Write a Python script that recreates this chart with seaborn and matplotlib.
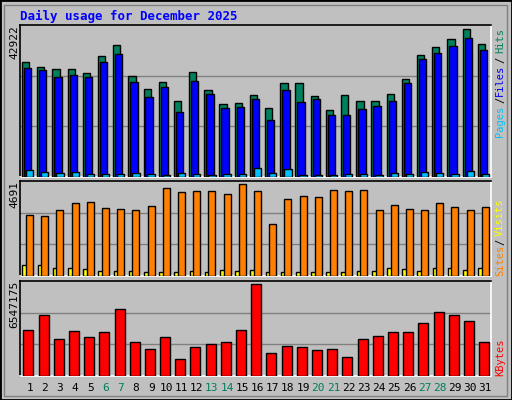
import numpy as np
import matplotlib
matplotlib.use("Agg")
import matplotlib.pyplot as plt
from matplotlib.patches import Rectangle
import seaborn as sns

sns.set_theme(style="white")
plt.rcParams['font.family'] = ['DejaVu Sans Mono', 'DejaVu Sans']

days = list(range(1, 32))
day_labels = [str(d) for d in days]
weekend_days = [6, 7, 13, 14, 20, 21, 27, 28]
hits = [32355, 30940, 30374, 30374, 29242, 34053, 37166, 28393, 24714, 26695, 21601, 29525, 24431, 20753, 21036,
        23017, 19621, 26412, 26412, 22734, 19055, 23017, 21601, 21601, 23300, 27544, 34336, 36600, 38864, 41694, 37449]
files = [30657, 30091, 28110, 28676, 28110, 32355, 34619, 26695, 22450, 25280, 18489, 26978, 23300, 19621, 19904,
         21885, 16225, 24431, 21319, 21885, 17640, 17640, 19338, 20187, 21601, 26412, 33204, 34902, 36883, 39147, 35751]
pages = [2075, 1509, 1226, 1509, 943, 943, 943, 1226, 943, 660, 1226, 943, 660, 943, 943,
         2641, 1226, 2358, 660, 660, 660, 943, 943, 660, 1226, 943, 1509, 1226, 943, 1792, 943]
visits = [3001, 2952, 3247, 3592, 3641, 3346, 3296, 3247, 3444, 4330, 4133, 4182, 4182, 4034, 4526,
          4182, 2558, 3788, 3936, 3887, 4231, 4182, 4231, 3247, 3493, 3296, 3247, 3592, 3395, 3247, 3395]
sites = [541, 541, 394, 394, 344, 246, 246, 246, 197, 197, 197, 246, 197, 295, 246,
         295, 197, 197, 197, 197, 197, 197, 246, 246, 394, 344, 246, 394, 394, 295, 394]
kbytes = [3204, 4173, 2582, 3135, 2720, 3066, 4588, 2374, 1890, 2720, 1199, 2029, 2236, 2374, 3204,
          6317, 1614, 2098, 2029, 1821, 1890, 1337, 2582, 2789, 3066, 3066, 3619, 4380, 4173, 3758, 2374]
max_hits_label = 42922
max_visits_label = 4691
max_kb_label = 6547175

BG = "#C0C0C0"
fig = plt.figure(figsize=(5.12, 4.0), dpi=100, facecolor=BG)
W, H = 512, 400
fig.patches.append(Rectangle((0, 0), 1, 1, transform=fig.transFigure, fill=False,
                             edgecolor="black", linewidth=2, zorder=10))
fig.patches.append(Rectangle((4/W, 4/H), 1-9/W, 1-9/H, transform=fig.transFigure, fill=False,
                             edgecolor="#808080", linewidth=1, zorder=10))

def mkax(top, bottom):
    ax = fig.add_axes([20/W, (H-bottom)/H, 471/W, (bottom-top)/H])
    ax.set_facecolor(BG)
    for s in ["top", "left"]:
        ax.spines[s].set_color("black")
    for s in ["bottom", "right"]:
        ax.spines[s].set_color("white")
    for sp in ax.spines.values():
        sp.set_linewidth(1.2)
    return ax

x = np.array(days, dtype=float)

def bars(ax, xs, vals, w, color):
    sns.barplot(x=xs, y=vals, native_scale=True, width=w, color=color, edgecolor="black",
                linewidth=1, saturation=1, ax=ax, zorder=3)

ax1 = mkax(25, 177)
ax1.set_ylim(0, max_hits_label)
for g in (1/3, 2/3):
    ax1.axhline(max_hits_label*g, color="#808080", lw=1, zorder=1)
bars(ax1, x - 0.13, hits, 0.48, "#00805C")
bars(ax1, x, files, 0.48, "#0000FF")
bars(ax1, x + 0.13, pages, 0.48, "#00C0FF")

ax2 = mkax(181, 276)
ax2.set_ylim(0, max_visits_label)
for g in (1/3, 2/3):
    ax2.axhline(max_visits_label*g, color="#808080", lw=1, zorder=1)
bars(ax2, x - 0.18, sites, 0.32, "#FFFF00")
bars(ax2, x + 0.13, visits, 0.46, "#FF8000")

ax3 = mkax(281, 376)
ax3.set_ylim(0, max_kb_label/1000)
for g in (1/3, 2/3):
    ax3.axhline(max_kb_label/1000*g, color="#808080", lw=1, zorder=1)
bars(ax3, x + 0.05, kbytes, 0.66, "#FF0000")

for ax in (ax1, ax2, ax3):
    ax.set_xlabel(""); ax.set_ylabel("")
    ax.set_xlim(0.5, 31.5)
    ax.set_xticks([]); ax.set_yticks([])

def ftext(px, py, s, color="black", rot=0, ha="left", va="center", size=8, weight="normal"):
    fig.text(px/W, (H-py)/H, s, color=color, rotation=rot, ha=ha, va=va, fontsize=size, weight=weight)

ftext(20, 16, "Daily usage for December 2025", color="#0000FF", size=9, weight="bold")
ftext(14, 25, str(max_hits_label), rot=90, ha="center", va="top")
ftext(14, 181, str(max_visits_label), rot=90, ha="center", va="top")
ftext(14, 281, str(max_kb_label), rot=90, ha="center", va="top")

for d, lab in zip(days, day_labels):
    px = 20 + (d - 0.5) * 471/31 + 2
    ftext(px, 388, lab, color="#00805C" if d in weekend_days else "black", ha="center")

RS = 7.5
ftext(500, 137, "Pages", color="#00C0FF", rot=90, ha="center", va="bottom", size=RS)
ftext(500, 100, "/", rot=90, ha="center", size=RS)
ftext(500, 80, "Files", color="#0000FF", rot=90, ha="center", size=RS)
ftext(500, 60, "/", rot=90, ha="center", size=RS)
ftext(500, 28, "Hits", color="#00805C", rot=90, ha="center", va="top", size=RS)
ftext(500, 276, "Sites", color="#FF8000", rot=90, ha="center", va="bottom", size=RS)
ftext(500, 242, "/", rot=90, ha="center", size=RS)
ftext(500, 198, "Visits", color="#FFFF00", rot=90, ha="center", va="top", size=RS)
ftext(500, 376, "KBytes", color="#FF0000", rot=90, ha="center", va="bottom", size=RS)

fig.savefig("out.png", dpi=100, facecolor=BG)
